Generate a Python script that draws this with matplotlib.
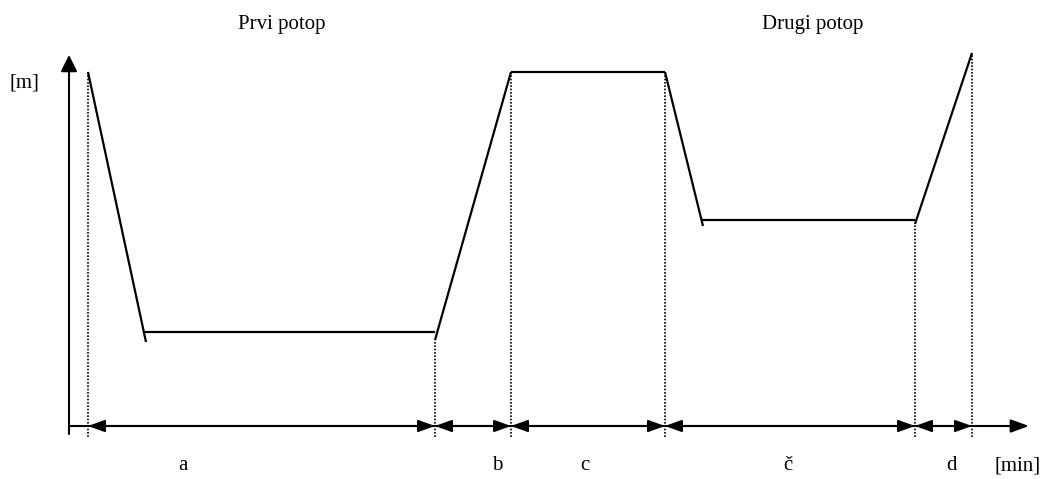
import matplotlib.pyplot as plt

# breakpoints of the water level curve (time in min, level in m)
descent1 = ([1.9, 7.7], [35.4, 8.4])
flat1 = ([7.6, 36.6], [9.4, 9.4])
rise1 = ([36.6, 44.2], [8.6, 35.4])
flat2 = ([44.2, 59.6], [35.4, 35.4])
descent2 = ([59.6, 63.4], [35.4, 20.0])
flat3 = ([63.3, 84.6], [20.6, 20.6])
rise2 = ([84.6, 90.3], [20.2, 37.3])
segments = [descent1, flat1, rise1, flat2, descent2, flat3, rise2]

# phase boundaries and the level where the dotted guide stops
bounds = [1.9, 36.6, 44.2, 59.6, 84.6, 90.3]
bound_tops = [35.4, 8.6, 35.4, 35.4, 20.2, 37.3]

phase_labels = ['a', 'b', 'c', 'č', 'd']
phase_label_x = [11.4, 42.8, 51.6, 71.9, 88.3]
titles = ['Prvi potop', 'Drugi potop']
title_x = [21.3, 74.4]

plt.rcParams['font.family'] = ['Liberation Serif', 'DejaVu Serif']

fig = plt.figure(figsize=(10.46, 4.79), dpi=100)
ax = fig.add_axes([0, 0, 1, 1])
ax.set_xlim(-6.9, 97.7)
ax.set_ylim(-5.3, 42.6)
ax.axis('off')

# axes with arrows
ax.annotate('', xy=(0, 37.1), xytext=(0, -0.8),
            arrowprops=dict(arrowstyle='-|>,head_length=0.5,head_width=0.25',
                            lw=1.5, color='black', shrinkA=0, shrinkB=0,
                            mutation_scale=20))
ax.annotate('', xy=(96.0, 0), xytext=(0, 0),
            arrowprops=dict(arrowstyle='-|>,head_length=0.55,head_width=0.2',
                            lw=1.5, color='black', shrinkA=0, shrinkB=0,
                            mutation_scale=20))

# curve
for xs, ys in segments:
    ax.plot(xs, ys, color='black', lw=1.6, solid_capstyle='butt')

# dotted guides
for bx, top in zip(bounds, bound_tops):
    ax.plot([bx, bx], [-1.1, top], color='black', lw=1.2, ls=(0, (1, 1)))

# double arrows for the phases
for x0, x1 in zip(bounds[:-1], bounds[1:]):
    ax.annotate('', xy=(x1, 0), xytext=(x0, 0),
                arrowprops=dict(arrowstyle='<|-|>,head_length=0.5,head_width=0.18',
                                lw=1.5, color='black', shrinkA=0, shrinkB=0,
                                mutation_scale=20))

for lab, lx in zip(phase_labels, phase_label_x):
    ax.text(lx, -4.0, lab, ha='center', va='center', fontsize=15)
ax.text(94.9, -4.0, '[min]', ha='center', va='center', fontsize=15)
ax.text(-4.5, 34.3, '[m]', ha='center', va='center', fontsize=15)
for t, tx in zip(titles, title_x):
    ax.text(tx, 40.2, t, ha='center', va='center', fontsize=15)

fig.savefig('out.png', dpi=100)
